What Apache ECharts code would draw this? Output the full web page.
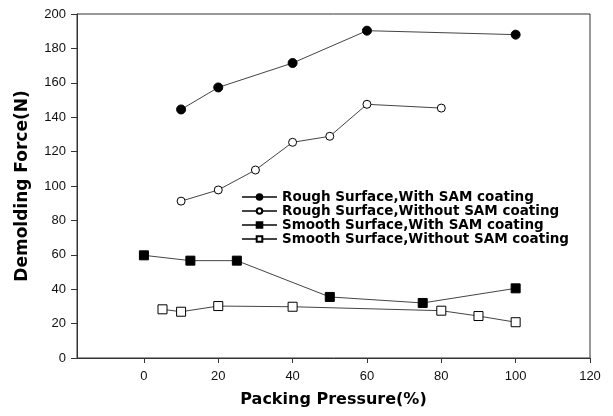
<!DOCTYPE html>
<html>
<head>
<meta charset="utf-8">
<script src="https://cdn.jsdelivr.net/npm/echarts@6/dist/echarts.min.js"></script>
<style>
  html, body { margin: 0; padding: 0; background: #fff; }
  #chart { width: 613px; height: 416px; }
</style>
</head>
<body>
<div id="chart"></div>
<script>
// packing pressure (%) / demolding force (N)
var roughSam = [[10, 144.5], [20, 157.3], [40, 171.5], [60, 190.3], [100, 188]];
var roughNoSam = [[10, 91.2], [20, 97.7], [30, 109.3], [40, 125.4], [50, 128.9], [60, 147.5], [80, 145.3]];
var smoothSam = [[0, 59.7], [12.5, 56.6], [25, 56.6], [50, 35.5], [75, 32], [100, 40.5]];
var smoothNoSam = [[5, 28.3], [10, 26.9], [20, 30.2], [40, 29.8], [80, 27.5], [90, 24.4], [100, 20.8]];
var seriesNames = [
  'Rough Surface,With SAM coating',
  'Rough Surface,Without SAM coating',
  'Smooth Surface,With SAM coating',
  'Smooth Surface,Without SAM coating'
];
var xTicks = [0, 20, 40, 60, 80, 100, 120];

var dom = document.getElementById('chart');
var myChart = echarts.init(dom, null, { renderer: 'canvas' });

function mk(name, data, symbol, fill, size) {
  return {
    name: name,
    type: 'line',
    data: data,
    symbol: symbol,
    symbolSize: size,
    showSymbol: true,
    animation: false,
    lineStyle: { color: '#444', width: 1 },
    itemStyle: { color: fill, borderColor: '#000', borderWidth: 1 },
    z: 3
  };
}

var option = {
  backgroundColor: '#fff',
  animation: false,
  grid: { left: 77, right: 23, top: 14, bottom: 58, show: true, borderColor: '#333', borderWidth: 1 },
  legend: {
    left: 236,
    top: 185,
    orient: 'vertical',
    itemWidth: 35,
    itemHeight: 7,
    itemGap: 0,
    data: seriesNames,
    textStyle: {
      fontFamily: 'DejaVu Sans',
      fontWeight: 'bold',
      fontSize: 13.5,
      color: '#000'
    }
  },
  xAxis: {
    type: 'value',
    min: -18,
    max: 120,
    name: 'Packing Pressure(%)',
    nameLocation: 'middle',
    nameGap: 34,
    nameTextStyle: { fontFamily: 'DejaVu Sans', fontWeight: 'bold', fontSize: 16, color: '#000' },
    axisLine: { onZero: false, lineStyle: { color: '#333' } },
    axisTick: { show: true, length: 5, customValues: xTicks, lineStyle: { color: '#333' } },
    axisLabel: { customValues: xTicks, fontFamily: 'Liberation Sans', fontSize: 13, color: '#111', margin: 12 },
    splitLine: { show: false }
  },
  yAxis: {
    type: 'value',
    min: 0,
    max: 200,
    interval: 20,
    name: 'Demolding Force(N)',
    nameLocation: 'middle',
    nameGap: 46,
    nameTextStyle: { fontFamily: 'DejaVu Sans', fontWeight: 'bold', fontSize: 17, color: '#000' },
    axisLine: { show: true, onZero: false, lineStyle: { color: '#333' } },
    axisTick: { show: true, length: 6, lineStyle: { color: '#333' } },
    axisLabel: { fontFamily: 'Liberation Sans', fontSize: 13, color: '#111', margin: 11 },
    splitLine: { show: false }
  },
  series: [
    mk(seriesNames[0], roughSam, 'circle', '#000', 9),
    mk(seriesNames[1], roughNoSam, 'circle', '#fff', 8),
    mk(seriesNames[2], smoothSam, 'rect', '#000', 9),
    mk(seriesNames[3], smoothNoSam, 'rect', '#fff', 9)
  ]
};

myChart.setOption(option);
window.addEventListener('resize', myChart.resize);
</script>
</body>
</html>
